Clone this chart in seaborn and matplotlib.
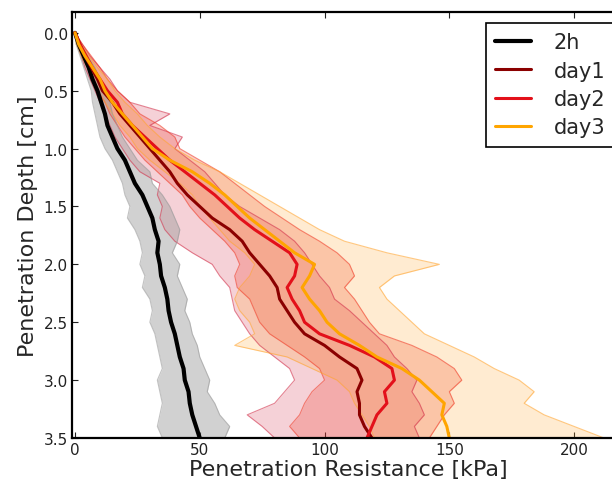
import numpy as np
import pandas as pd
import matplotlib
matplotlib.use("Agg")
import matplotlib.pyplot as plt
import seaborn as sns

# ---------------- data ----------------
depth = [0.0, 0.1, 0.2, 0.3, 0.4, 0.5, 0.6, 0.7, 0.8, 0.9,
         1.0, 1.1, 1.2, 1.3, 1.4, 1.5, 1.6, 1.7, 1.8, 1.9,
         2.0, 2.1, 2.2, 2.3, 2.4, 2.5, 2.6, 2.7, 2.8, 2.9,
         3.0, 3.1, 3.2, 3.3, 3.4, 3.5]

series_names = ["2h", "day1", "day2", "day3"]

mean_2h = [0, 1.5, 3.5, 5.5, 7, 9, 10.5, 12, 13, 15,
           17, 20, 22, 24, 27, 29, 31, 32, 33.5, 33,
           34, 34.5, 36, 37, 37.5, 38.5, 40, 41, 42, 43.5,
           44, 45.5, 46, 47, 48.5, 50]
low_2h = [0, 0.5, 2, 3.5, 5, 6.5, 7, 8, 9, 10,
          12, 15, 17, 19, 20, 22, 21, 24, 26, 27,
          26, 28, 27, 30, 31, 30, 32, 33, 34, 35,
          33, 34, 35, 34, 33, 35]
up_2h = [0, 2.5, 5, 8, 10, 12, 14, 15, 17, 19,
         22, 25, 30, 31, 35, 38, 40, 42, 41, 39,
         42, 41, 43, 45, 44, 46, 47, 49, 50, 52,
         54, 53, 56, 58, 62, 60]

mean_day1 = [0, 2, 4, 6.5, 9, 11, 15, 18, 22, 26,
             30, 34, 38, 41, 45, 50, 55, 62, 67, 70,
             74, 78, 81, 82, 85, 88, 92, 100, 106, 113,
             115, 113, 114, 114, 116, 119]
low_day1 = [0, 1, 2.5, 4, 6, 8, 10, 12, 14, 16,
            19, 22, 26, 34, 33, 35, 34, 36, 40, 47,
            55, 58, 62, 63, 64, 67, 70, 74, 80, 86,
            88, 84, 80, 69, 75, 80]
up_day1 = [0, 3, 6, 10, 14, 17, 22, 38, 30, 43,
           40, 46, 52, 56, 60, 66, 74, 82, 88, 92,
           95, 98, 102, 104, 110, 115, 120, 125, 128, 133,
           137, 135, 138, 140, 136, 138]

mean_day2 = [0, 2, 4.5, 7, 10, 13, 17, 19, 23, 28,
             33, 38, 44, 50, 56, 61, 66, 72, 79, 86,
             89, 88, 85, 87, 90, 92, 98, 110, 120, 127,
             128, 124, 125, 121, 119, 117]
low_day2 = [0, 1, 3, 5, 7, 9, 12, 14, 17, 20,
            24, 28, 33, 38, 43, 46, 50, 55, 60, 64,
            66, 64, 65, 70, 72, 74, 78, 85, 92, 98,
            100, 95, 92, 90, 86, 90]
up_day2 = [0, 3, 6.5, 10, 13, 17, 22, 26, 34, 40,
           42, 50, 58, 64, 70, 76, 83, 90, 98, 105,
           110, 112, 108, 112, 115, 118, 122, 135, 145, 152,
           155, 150, 152, 148, 145, 142]

mean_day3 = [0, 1.5, 4, 7, 10, 12, 15, 19, 23, 27,
             31, 38, 47, 54, 60, 65, 70, 76, 82, 88,
             96, 94, 91, 94, 98, 101, 106, 114, 121, 131,
             138, 143, 148, 147, 149, 150]
low_day3 = [0, 0.5, 2.5, 5, 7, 9, 12, 15, 18, 22,
            25, 30, 36, 42, 47, 50, 54, 58, 62, 68,
            72, 70, 66, 64, 66, 70, 72, 64, 85, 95,
            105, 110, 112, 115, 118, 120]
up_day3 = [0, 2.5, 5.5, 9, 13, 16, 20, 25, 29, 34,
           40, 48, 58, 66, 74, 82, 90, 98, 108, 125,
           146, 128, 122, 125, 130, 135, 140, 150, 160, 168,
           178, 184, 180, 188, 200, 212]

x_ticks = [0, 50, 100, 150, 200]
y_ticks = [0.0, 0.5, 1.0, 1.5, 2.0, 2.5, 3.0, 3.5]

# ---------------- styling ----------------
line_colors = {"2h": "#000000", "day1": "#8b0000", "day2": "#e3101a", "day3": "#ffa500"}
fill_colors = {"2h": "#9a9a9a", "day1": "#d2304a", "day2": "#f03c28", "day3": "#ffa530"}
fill_alpha = {"2h": 0.45, "day1": 0.22, "day2": 0.25, "day3": 0.22}
line_widths = {"2h": 3.0, "day1": 2.2, "day2": 2.2, "day3": 2.2}

sns.set_theme(style="white")
plt.rcParams["font.family"] = ["DejaVu Sans"]

means = {"2h": mean_2h, "day1": mean_day1, "day2": mean_day2, "day3": mean_day3}
lows = {"2h": low_2h, "day1": low_day1, "day2": low_day2, "day3": low_day3}
ups = {"2h": up_2h, "day1": up_day1, "day2": up_day2, "day3": up_day3}

df = pd.concat([
    pd.DataFrame({"depth": depth, "resistance": means[n], "series": n})
    for n in series_names
], ignore_index=True)

fig = plt.figure(figsize=(6.12, 4.85), dpi=100)
ax = fig.add_axes([72 / 612, 46 / 485, 552 / 612, 426 / 485])

# shaded bands
for n in ["day1", "day2", "day3", "2h"]:
    ax.fill_betweenx(depth, lows[n], ups[n], color=fill_colors[n],
                     alpha=fill_alpha[n], linewidth=0)
    ax.plot(lows[n], depth, color=fill_colors[n], alpha=0.6, lw=0.8)
    ax.plot(ups[n], depth, color=fill_colors[n], alpha=0.6, lw=0.8)

# mean lines through seaborn
for n in ["2h", "day1", "day2", "day3"]:
    sns.lineplot(data=df[df["series"] == n], x="resistance", y="depth",
                 orient="y", sort=True, estimator=None,
                 color=line_colors[n], lw=line_widths[n], label=n, ax=ax)

ax.set_xlim(-1.2, 220)
ax.set_ylim(3.5, -0.18)
ax.set_xticks(x_ticks)
ax.set_yticks(y_ticks)
ax.set_yticklabels([f"{v:.1f}" for v in y_ticks])
ax.tick_params(direction="in", bottom=True, left=True, top=True, right=True,
               length=4, width=0.8, labelsize=11, colors="#222222", pad=3)
for s in ax.spines.values():
    s.set_linewidth(1.6)
    s.set_color("black")

ax.set_xlabel("Penetration Resistance [kPa]", fontsize=16, labelpad=1)
ax.set_ylabel("Penetration Depth [cm]", fontsize=16, labelpad=4)

leg = ax.legend(loc="upper right", bbox_to_anchor=(1.004, 1 - 24 / 485),
                bbox_transform=fig.transFigure, fontsize=15, frameon=True,
                fancybox=False, framealpha=1, edgecolor="black",
                handlelength=1.7, handletextpad=1.1, labelspacing=0.4,
                borderpad=0.45, borderaxespad=0)
leg.get_frame().set_linewidth(1.2)

fig.savefig("out.png", dpi=100)
